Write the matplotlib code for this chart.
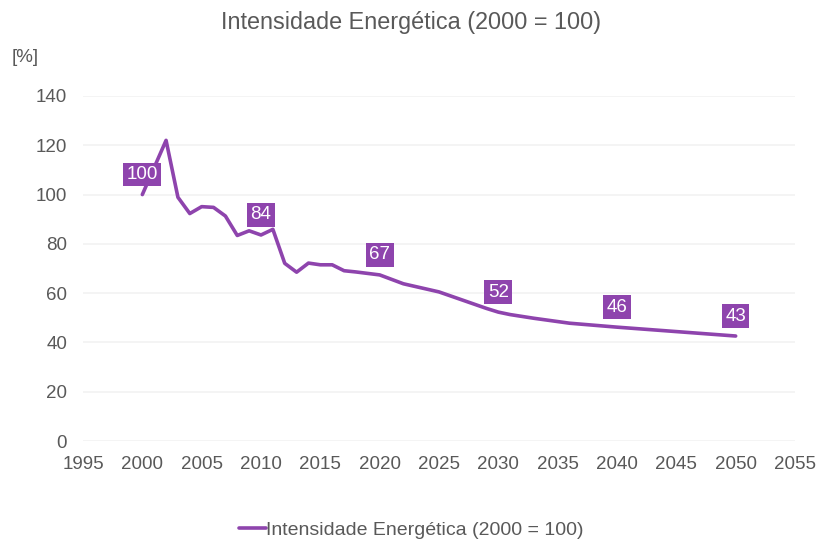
import matplotlib.pyplot as plt

plt.rcParams['font.family'] = ['Liberation Sans', 'DejaVu Sans']

# values (index 2000 = 100)
years = [2000, 2001, 2002, 2003, 2004, 2005, 2006, 2007, 2008, 2009, 2010,
         2011, 2012, 2013, 2014, 2015, 2016, 2017, 2018, 2020, 2022, 2025,
         2029, 2030, 2031, 2033, 2036, 2040, 2045, 2050]
intensity = [100.0, 111.0, 122.0, 98.9, 92.3, 95.1, 94.8, 91.3, 83.4, 85.3, 83.6,
             85.9, 72.1, 68.5, 72.2, 71.5, 71.5, 69.1, 68.6, 67.4, 63.8, 60.5,
             53.8, 52.3, 51.3, 49.8, 47.8, 46.2, 44.4, 42.6]
label_years = [2000, 2010, 2020, 2030, 2040, 2050]

series_name = 'Intensidade Energética (2000 = 100)'
purple = '#8e44ad'
grey = '#595959'

fig = plt.figure(figsize=(8.23, 5.42), dpi=100)
ax = fig.add_axes([83 / 823, 1 - 441 / 542, (795 - 83) / 823, (441 - 96) / 542])

ax.plot(years, intensity, color=purple, lw=2.6, solid_capstyle='round',
        label=series_name, zorder=3)

for yr in label_years:
    val = intensity[years.index(yr)]
    ax.annotate(f'{round(val):d}', (yr, val), xytext=(0, 20), textcoords='offset pixels',
                ha='center', va='center', color='white', fontsize=13.5, zorder=4,
                bbox=dict(boxstyle='square,pad=0.18', fc=purple, ec='none'))

ax.set_xlim(1995, 2055)
ax.set_ylim(0, 140)
ax.set_xticks(range(1995, 2056, 5))
ax.set_yticks(range(0, 141, 20))
ax.grid(axis='y', color='#f2f2f2', lw=1.2)
ax.set_axisbelow(True)
for s in ax.spines.values():
    s.set_visible(False)
ax.tick_params(length=0, labelsize=13.5, labelcolor=grey)
ax.tick_params(axis='x', pad=10.5)
ax.tick_params(axis='y', pad=11.5)

fig.text(0.5, 1 - 22 / 542, series_name, ha='center', va='center', fontsize=16.8, color=grey)
fig.text(12 / 823, 1 - 58 / 542, '[%]', ha='left', va='center', fontsize=13.5, color=grey)

fig.legend(loc='center', bbox_to_anchor=(0.5, 1 - 530 / 542), frameon=False,
           handlelength=1.4, handletextpad=0.0, fontsize=14, labelcolor=grey)

fig.savefig('out.png', dpi=100)
